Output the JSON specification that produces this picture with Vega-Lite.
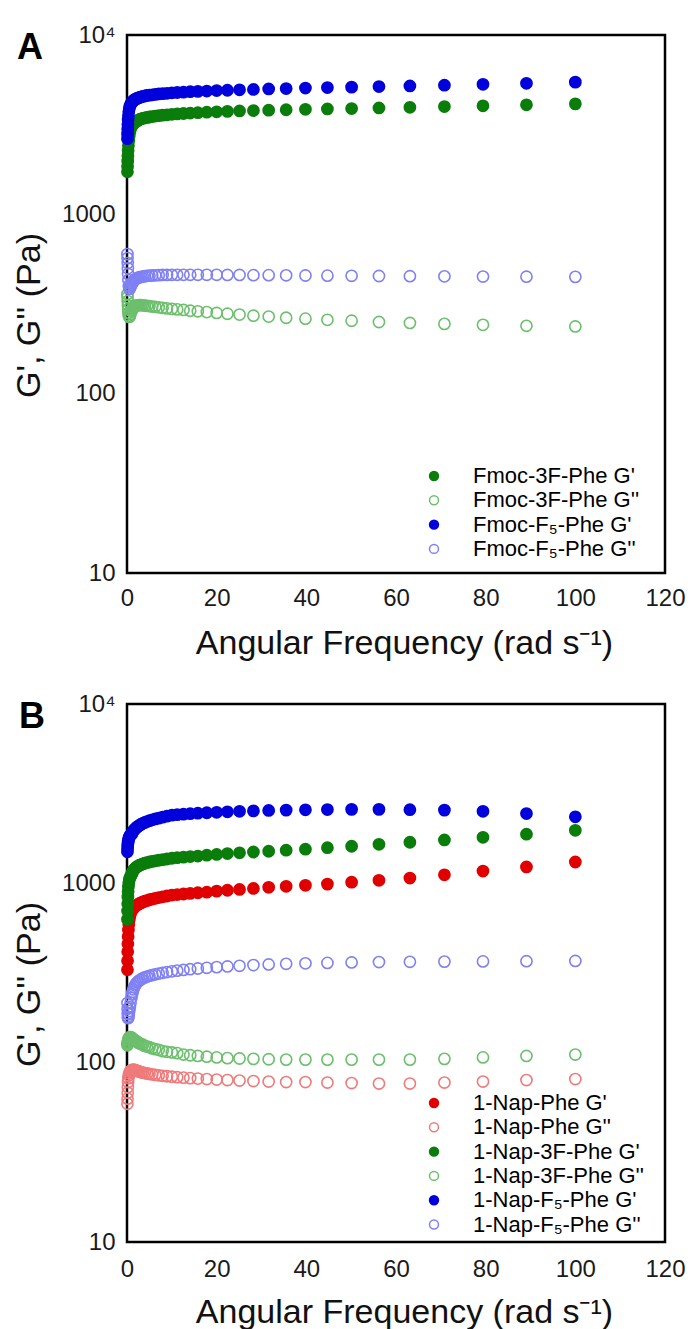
{
"$schema": "https://vega.github.io/schema/vega-lite/v6.json",
"background": "white",
"padding": {"left": 10, "top": 21, "right": 5, "bottom": 0},
"spacing": 28,
"config": {
  "font": "Liberation Sans",
  "view": {"stroke": "#000", "strokeWidth": 2.5},
  "axis": {"ticks": false, "domain": false, "grid": false, "labelFont": "Liberation Sans", "labelFontSize": 24, "labelColor": "#1a1a1a", "titleFont": "Liberation Sans", "titleFontSize": 34, "titleFontWeight": "normal", "titleColor": "#111", "labelFlush": false, "labelOverlap": false}
},
"datasets": {"pts": [
{"p":"A","s":"Fmoc-3F-Phe G'","x":0.1,"y":1730},{"p":"A","s":"Fmoc-3F-Phe G'","x":0.126,"y":1850},{"p":"A","s":"Fmoc-3F-Phe G'","x":0.158,"y":1980},{"p":"A","s":"Fmoc-3F-Phe G'","x":0.2,"y":2120},{"p":"A","s":"Fmoc-3F-Phe G'","x":0.251,"y":2270},{"p":"A","s":"Fmoc-3F-Phe G'","x":0.316,"y":2420},{"p":"A","s":"Fmoc-3F-Phe G'","x":0.398,"y":2580},{"p":"A","s":"Fmoc-3F-Phe G'","x":0.501,"y":2730},{"p":"A","s":"Fmoc-3F-Phe G'","x":0.631,"y":2880},{"p":"A","s":"Fmoc-3F-Phe G'","x":0.794,"y":3000},
{"p":"A","s":"Fmoc-3F-Phe G'","x":1,"y":3080},{"p":"A","s":"Fmoc-3F-Phe G'","x":1.12,"y":3120},{"p":"A","s":"Fmoc-3F-Phe G'","x":1.26,"y":3160},{"p":"A","s":"Fmoc-3F-Phe G'","x":1.41,"y":3200},{"p":"A","s":"Fmoc-3F-Phe G'","x":1.58,"y":3230},{"p":"A","s":"Fmoc-3F-Phe G'","x":1.78,"y":3260},{"p":"A","s":"Fmoc-3F-Phe G'","x":2,"y":3290},{"p":"A","s":"Fmoc-3F-Phe G'","x":2.24,"y":3320},{"p":"A","s":"Fmoc-3F-Phe G'","x":2.51,"y":3350},{"p":"A","s":"Fmoc-3F-Phe G'","x":2.82,"y":3380},
{"p":"A","s":"Fmoc-3F-Phe G'","x":3.16,"y":3410},{"p":"A","s":"Fmoc-3F-Phe G'","x":3.55,"y":3430},{"p":"A","s":"Fmoc-3F-Phe G'","x":3.98,"y":3450},{"p":"A","s":"Fmoc-3F-Phe G'","x":4.47,"y":3470},{"p":"A","s":"Fmoc-3F-Phe G'","x":5.01,"y":3490},{"p":"A","s":"Fmoc-3F-Phe G'","x":5.62,"y":3510},{"p":"A","s":"Fmoc-3F-Phe G'","x":6.31,"y":3530},{"p":"A","s":"Fmoc-3F-Phe G'","x":7.08,"y":3550},{"p":"A","s":"Fmoc-3F-Phe G'","x":7.94,"y":3570},{"p":"A","s":"Fmoc-3F-Phe G'","x":8.91,"y":3590},
{"p":"A","s":"Fmoc-3F-Phe G'","x":10,"y":3610},{"p":"A","s":"Fmoc-3F-Phe G'","x":11.2,"y":3630},{"p":"A","s":"Fmoc-3F-Phe G'","x":12.6,"y":3650},{"p":"A","s":"Fmoc-3F-Phe G'","x":14.1,"y":3670},{"p":"A","s":"Fmoc-3F-Phe G'","x":15.8,"y":3690},{"p":"A","s":"Fmoc-3F-Phe G'","x":17.8,"y":3710},{"p":"A","s":"Fmoc-3F-Phe G'","x":20,"y":3730},{"p":"A","s":"Fmoc-3F-Phe G'","x":22.4,"y":3750},{"p":"A","s":"Fmoc-3F-Phe G'","x":25.1,"y":3770},{"p":"A","s":"Fmoc-3F-Phe G'","x":28.2,"y":3790},
{"p":"A","s":"Fmoc-3F-Phe G'","x":31.6,"y":3810},{"p":"A","s":"Fmoc-3F-Phe G'","x":35.5,"y":3830},{"p":"A","s":"Fmoc-3F-Phe G'","x":39.8,"y":3850},{"p":"A","s":"Fmoc-3F-Phe G'","x":44.7,"y":3870},{"p":"A","s":"Fmoc-3F-Phe G'","x":50.1,"y":3890},{"p":"A","s":"Fmoc-3F-Phe G'","x":56.2,"y":3920},{"p":"A","s":"Fmoc-3F-Phe G'","x":63.1,"y":3950},{"p":"A","s":"Fmoc-3F-Phe G'","x":70.8,"y":3990},{"p":"A","s":"Fmoc-3F-Phe G'","x":79.4,"y":4030},{"p":"A","s":"Fmoc-3F-Phe G'","x":89.1,"y":4080},{"p":"A","s":"Fmoc-3F-Phe G'","x":100,"y":4130},
{"p":"A","s":"Fmoc-3F-Phe G''","x":0.1,"y":360},{"p":"A","s":"Fmoc-3F-Phe G''","x":0.126,"y":345},{"p":"A","s":"Fmoc-3F-Phe G''","x":0.158,"y":328},{"p":"A","s":"Fmoc-3F-Phe G''","x":0.2,"y":310},{"p":"A","s":"Fmoc-3F-Phe G''","x":0.251,"y":295},{"p":"A","s":"Fmoc-3F-Phe G''","x":0.316,"y":282},{"p":"A","s":"Fmoc-3F-Phe G''","x":0.398,"y":272},{"p":"A","s":"Fmoc-3F-Phe G''","x":0.501,"y":268},{"p":"A","s":"Fmoc-3F-Phe G''","x":0.631,"y":270},{"p":"A","s":"Fmoc-3F-Phe G''","x":0.794,"y":278},
{"p":"A","s":"Fmoc-3F-Phe G''","x":1,"y":288},{"p":"A","s":"Fmoc-3F-Phe G''","x":1.12,"y":294},{"p":"A","s":"Fmoc-3F-Phe G''","x":1.26,"y":299},{"p":"A","s":"Fmoc-3F-Phe G''","x":1.41,"y":303},{"p":"A","s":"Fmoc-3F-Phe G''","x":1.58,"y":306},{"p":"A","s":"Fmoc-3F-Phe G''","x":1.78,"y":308},{"p":"A","s":"Fmoc-3F-Phe G''","x":2,"y":310},{"p":"A","s":"Fmoc-3F-Phe G''","x":2.24,"y":311},{"p":"A","s":"Fmoc-3F-Phe G''","x":2.51,"y":312},{"p":"A","s":"Fmoc-3F-Phe G''","x":2.82,"y":312},
{"p":"A","s":"Fmoc-3F-Phe G''","x":3.16,"y":312},{"p":"A","s":"Fmoc-3F-Phe G''","x":3.55,"y":311},{"p":"A","s":"Fmoc-3F-Phe G''","x":3.98,"y":310},{"p":"A","s":"Fmoc-3F-Phe G''","x":4.47,"y":309},{"p":"A","s":"Fmoc-3F-Phe G''","x":5.01,"y":308},{"p":"A","s":"Fmoc-3F-Phe G''","x":5.62,"y":306},{"p":"A","s":"Fmoc-3F-Phe G''","x":6.31,"y":305},{"p":"A","s":"Fmoc-3F-Phe G''","x":7.08,"y":303},{"p":"A","s":"Fmoc-3F-Phe G''","x":7.94,"y":301},{"p":"A","s":"Fmoc-3F-Phe G''","x":8.91,"y":299},
{"p":"A","s":"Fmoc-3F-Phe G''","x":10,"y":297},{"p":"A","s":"Fmoc-3F-Phe G''","x":11.2,"y":295},{"p":"A","s":"Fmoc-3F-Phe G''","x":12.6,"y":293},{"p":"A","s":"Fmoc-3F-Phe G''","x":14.1,"y":290},{"p":"A","s":"Fmoc-3F-Phe G''","x":15.8,"y":288},{"p":"A","s":"Fmoc-3F-Phe G''","x":17.8,"y":285},{"p":"A","s":"Fmoc-3F-Phe G''","x":20,"y":282},{"p":"A","s":"Fmoc-3F-Phe G''","x":22.4,"y":279},{"p":"A","s":"Fmoc-3F-Phe G''","x":25.1,"y":276},{"p":"A","s":"Fmoc-3F-Phe G''","x":28.2,"y":272},
{"p":"A","s":"Fmoc-3F-Phe G''","x":31.6,"y":269},{"p":"A","s":"Fmoc-3F-Phe G''","x":35.5,"y":265},{"p":"A","s":"Fmoc-3F-Phe G''","x":39.8,"y":262},{"p":"A","s":"Fmoc-3F-Phe G''","x":44.7,"y":258},{"p":"A","s":"Fmoc-3F-Phe G''","x":50.1,"y":255},{"p":"A","s":"Fmoc-3F-Phe G''","x":56.2,"y":251},{"p":"A","s":"Fmoc-3F-Phe G''","x":63.1,"y":248},{"p":"A","s":"Fmoc-3F-Phe G''","x":70.8,"y":245},{"p":"A","s":"Fmoc-3F-Phe G''","x":79.4,"y":242},{"p":"A","s":"Fmoc-3F-Phe G''","x":89.1,"y":239},{"p":"A","s":"Fmoc-3F-Phe G''","x":100,"y":237},
{"p":"A","s":"Fmoc-F₅-Phe G'","x":0.1,"y":2640},{"p":"A","s":"Fmoc-F₅-Phe G'","x":0.126,"y":2800},{"p":"A","s":"Fmoc-F₅-Phe G'","x":0.158,"y":2980},{"p":"A","s":"Fmoc-F₅-Phe G'","x":0.2,"y":3170},{"p":"A","s":"Fmoc-F₅-Phe G'","x":0.251,"y":3360},{"p":"A","s":"Fmoc-F₅-Phe G'","x":0.316,"y":3550},{"p":"A","s":"Fmoc-F₅-Phe G'","x":0.398,"y":3730},{"p":"A","s":"Fmoc-F₅-Phe G'","x":0.501,"y":3880},{"p":"A","s":"Fmoc-F₅-Phe G'","x":0.631,"y":4000},{"p":"A","s":"Fmoc-F₅-Phe G'","x":0.794,"y":4100},
{"p":"A","s":"Fmoc-F₅-Phe G'","x":1,"y":4180},{"p":"A","s":"Fmoc-F₅-Phe G'","x":1.12,"y":4220},{"p":"A","s":"Fmoc-F₅-Phe G'","x":1.26,"y":4260},{"p":"A","s":"Fmoc-F₅-Phe G'","x":1.41,"y":4300},{"p":"A","s":"Fmoc-F₅-Phe G'","x":1.58,"y":4340},{"p":"A","s":"Fmoc-F₅-Phe G'","x":1.78,"y":4370},{"p":"A","s":"Fmoc-F₅-Phe G'","x":2,"y":4400},{"p":"A","s":"Fmoc-F₅-Phe G'","x":2.24,"y":4430},{"p":"A","s":"Fmoc-F₅-Phe G'","x":2.51,"y":4460},{"p":"A","s":"Fmoc-F₅-Phe G'","x":2.82,"y":4490},
{"p":"A","s":"Fmoc-F₅-Phe G'","x":3.16,"y":4520},{"p":"A","s":"Fmoc-F₅-Phe G'","x":3.55,"y":4550},{"p":"A","s":"Fmoc-F₅-Phe G'","x":3.98,"y":4570},{"p":"A","s":"Fmoc-F₅-Phe G'","x":4.47,"y":4600},{"p":"A","s":"Fmoc-F₅-Phe G'","x":5.01,"y":4620},{"p":"A","s":"Fmoc-F₅-Phe G'","x":5.62,"y":4640},{"p":"A","s":"Fmoc-F₅-Phe G'","x":6.31,"y":4660},{"p":"A","s":"Fmoc-F₅-Phe G'","x":7.08,"y":4690},{"p":"A","s":"Fmoc-F₅-Phe G'","x":7.94,"y":4710},{"p":"A","s":"Fmoc-F₅-Phe G'","x":8.91,"y":4730},
{"p":"A","s":"Fmoc-F₅-Phe G'","x":10,"y":4760},{"p":"A","s":"Fmoc-F₅-Phe G'","x":11.2,"y":4780},{"p":"A","s":"Fmoc-F₅-Phe G'","x":12.6,"y":4800},{"p":"A","s":"Fmoc-F₅-Phe G'","x":14.1,"y":4830},{"p":"A","s":"Fmoc-F₅-Phe G'","x":15.8,"y":4850},{"p":"A","s":"Fmoc-F₅-Phe G'","x":17.8,"y":4870},{"p":"A","s":"Fmoc-F₅-Phe G'","x":20,"y":4900},{"p":"A","s":"Fmoc-F₅-Phe G'","x":22.4,"y":4920},{"p":"A","s":"Fmoc-F₅-Phe G'","x":25.1,"y":4950},{"p":"A","s":"Fmoc-F₅-Phe G'","x":28.2,"y":4970},
{"p":"A","s":"Fmoc-F₅-Phe G'","x":31.6,"y":5000},{"p":"A","s":"Fmoc-F₅-Phe G'","x":35.5,"y":5030},{"p":"A","s":"Fmoc-F₅-Phe G'","x":39.8,"y":5060},{"p":"A","s":"Fmoc-F₅-Phe G'","x":44.7,"y":5090},{"p":"A","s":"Fmoc-F₅-Phe G'","x":50.1,"y":5120},{"p":"A","s":"Fmoc-F₅-Phe G'","x":56.2,"y":5160},{"p":"A","s":"Fmoc-F₅-Phe G'","x":63.1,"y":5200},{"p":"A","s":"Fmoc-F₅-Phe G'","x":70.8,"y":5250},{"p":"A","s":"Fmoc-F₅-Phe G'","x":79.4,"y":5310},{"p":"A","s":"Fmoc-F₅-Phe G'","x":89.1,"y":5380},{"p":"A","s":"Fmoc-F₅-Phe G'","x":100,"y":5460},
{"p":"A","s":"Fmoc-F₅-Phe G''","x":0.1,"y":600},{"p":"A","s":"Fmoc-F₅-Phe G''","x":0.126,"y":570},{"p":"A","s":"Fmoc-F₅-Phe G''","x":0.158,"y":535},{"p":"A","s":"Fmoc-F₅-Phe G''","x":0.2,"y":500},{"p":"A","s":"Fmoc-F₅-Phe G''","x":0.251,"y":465},{"p":"A","s":"Fmoc-F₅-Phe G''","x":0.316,"y":430},{"p":"A","s":"Fmoc-F₅-Phe G''","x":0.398,"y":400},{"p":"A","s":"Fmoc-F₅-Phe G''","x":0.501,"y":385},{"p":"A","s":"Fmoc-F₅-Phe G''","x":0.631,"y":385},{"p":"A","s":"Fmoc-F₅-Phe G''","x":0.794,"y":395},
{"p":"A","s":"Fmoc-F₅-Phe G''","x":1,"y":405},{"p":"A","s":"Fmoc-F₅-Phe G''","x":1.12,"y":412},{"p":"A","s":"Fmoc-F₅-Phe G''","x":1.26,"y":418},{"p":"A","s":"Fmoc-F₅-Phe G''","x":1.41,"y":424},{"p":"A","s":"Fmoc-F₅-Phe G''","x":1.58,"y":429},{"p":"A","s":"Fmoc-F₅-Phe G''","x":1.78,"y":433},{"p":"A","s":"Fmoc-F₅-Phe G''","x":2,"y":437},{"p":"A","s":"Fmoc-F₅-Phe G''","x":2.24,"y":440},{"p":"A","s":"Fmoc-F₅-Phe G''","x":2.51,"y":443},{"p":"A","s":"Fmoc-F₅-Phe G''","x":2.82,"y":446},
{"p":"A","s":"Fmoc-F₅-Phe G''","x":3.16,"y":448},{"p":"A","s":"Fmoc-F₅-Phe G''","x":3.55,"y":450},{"p":"A","s":"Fmoc-F₅-Phe G''","x":3.98,"y":452},{"p":"A","s":"Fmoc-F₅-Phe G''","x":4.47,"y":454},{"p":"A","s":"Fmoc-F₅-Phe G''","x":5.01,"y":455},{"p":"A","s":"Fmoc-F₅-Phe G''","x":5.62,"y":456},{"p":"A","s":"Fmoc-F₅-Phe G''","x":6.31,"y":457},{"p":"A","s":"Fmoc-F₅-Phe G''","x":7.08,"y":458},{"p":"A","s":"Fmoc-F₅-Phe G''","x":7.94,"y":459},{"p":"A","s":"Fmoc-F₅-Phe G''","x":8.91,"y":459},
{"p":"A","s":"Fmoc-F₅-Phe G''","x":10,"y":460},{"p":"A","s":"Fmoc-F₅-Phe G''","x":11.2,"y":460},{"p":"A","s":"Fmoc-F₅-Phe G''","x":12.6,"y":460},{"p":"A","s":"Fmoc-F₅-Phe G''","x":14.1,"y":460},{"p":"A","s":"Fmoc-F₅-Phe G''","x":15.8,"y":460},{"p":"A","s":"Fmoc-F₅-Phe G''","x":17.8,"y":460},{"p":"A","s":"Fmoc-F₅-Phe G''","x":20,"y":460},{"p":"A","s":"Fmoc-F₅-Phe G''","x":22.4,"y":459},{"p":"A","s":"Fmoc-F₅-Phe G''","x":25.1,"y":459},{"p":"A","s":"Fmoc-F₅-Phe G''","x":28.2,"y":458},
{"p":"A","s":"Fmoc-F₅-Phe G''","x":31.6,"y":458},{"p":"A","s":"Fmoc-F₅-Phe G''","x":35.5,"y":457},{"p":"A","s":"Fmoc-F₅-Phe G''","x":39.8,"y":456},{"p":"A","s":"Fmoc-F₅-Phe G''","x":44.7,"y":455},{"p":"A","s":"Fmoc-F₅-Phe G''","x":50.1,"y":454},{"p":"A","s":"Fmoc-F₅-Phe G''","x":56.2,"y":453},{"p":"A","s":"Fmoc-F₅-Phe G''","x":63.1,"y":452},{"p":"A","s":"Fmoc-F₅-Phe G''","x":70.8,"y":451},{"p":"A","s":"Fmoc-F₅-Phe G''","x":79.4,"y":450},{"p":"A","s":"Fmoc-F₅-Phe G''","x":89.1,"y":449},{"p":"A","s":"Fmoc-F₅-Phe G''","x":100,"y":448},
{"p":"B","s":"1-Nap-Phe G'","x":0.1,"y":330},{"p":"B","s":"1-Nap-Phe G'","x":0.126,"y":370},{"p":"B","s":"1-Nap-Phe G'","x":0.158,"y":415},{"p":"B","s":"1-Nap-Phe G'","x":0.2,"y":460},{"p":"B","s":"1-Nap-Phe G'","x":0.251,"y":505},{"p":"B","s":"1-Nap-Phe G'","x":0.316,"y":550},{"p":"B","s":"1-Nap-Phe G'","x":0.398,"y":590},{"p":"B","s":"1-Nap-Phe G'","x":0.501,"y":625},{"p":"B","s":"1-Nap-Phe G'","x":0.631,"y":655},{"p":"B","s":"1-Nap-Phe G'","x":0.794,"y":680},
{"p":"B","s":"1-Nap-Phe G'","x":1,"y":700},{"p":"B","s":"1-Nap-Phe G'","x":1.12,"y":710},{"p":"B","s":"1-Nap-Phe G'","x":1.26,"y":718},{"p":"B","s":"1-Nap-Phe G'","x":1.41,"y":726},{"p":"B","s":"1-Nap-Phe G'","x":1.58,"y":734},{"p":"B","s":"1-Nap-Phe G'","x":1.78,"y":742},{"p":"B","s":"1-Nap-Phe G'","x":2,"y":750},{"p":"B","s":"1-Nap-Phe G'","x":2.24,"y":757},{"p":"B","s":"1-Nap-Phe G'","x":2.51,"y":765},{"p":"B","s":"1-Nap-Phe G'","x":2.82,"y":772},
{"p":"B","s":"1-Nap-Phe G'","x":3.16,"y":780},{"p":"B","s":"1-Nap-Phe G'","x":3.55,"y":787},{"p":"B","s":"1-Nap-Phe G'","x":3.98,"y":795},{"p":"B","s":"1-Nap-Phe G'","x":4.47,"y":802},{"p":"B","s":"1-Nap-Phe G'","x":5.01,"y":810},{"p":"B","s":"1-Nap-Phe G'","x":5.62,"y":817},{"p":"B","s":"1-Nap-Phe G'","x":6.31,"y":825},{"p":"B","s":"1-Nap-Phe G'","x":7.08,"y":833},{"p":"B","s":"1-Nap-Phe G'","x":7.94,"y":841},{"p":"B","s":"1-Nap-Phe G'","x":8.91,"y":850},
{"p":"B","s":"1-Nap-Phe G'","x":10,"y":860},{"p":"B","s":"1-Nap-Phe G'","x":11.2,"y":866},{"p":"B","s":"1-Nap-Phe G'","x":12.6,"y":872},{"p":"B","s":"1-Nap-Phe G'","x":14.1,"y":879},{"p":"B","s":"1-Nap-Phe G'","x":15.8,"y":886},{"p":"B","s":"1-Nap-Phe G'","x":17.8,"y":893},{"p":"B","s":"1-Nap-Phe G'","x":20,"y":905},{"p":"B","s":"1-Nap-Phe G'","x":22.4,"y":915},{"p":"B","s":"1-Nap-Phe G'","x":25.1,"y":925},{"p":"B","s":"1-Nap-Phe G'","x":28.2,"y":937},
{"p":"B","s":"1-Nap-Phe G'","x":31.6,"y":950},{"p":"B","s":"1-Nap-Phe G'","x":35.5,"y":962},{"p":"B","s":"1-Nap-Phe G'","x":39.8,"y":975},{"p":"B","s":"1-Nap-Phe G'","x":44.7,"y":990},{"p":"B","s":"1-Nap-Phe G'","x":50.1,"y":1015},{"p":"B","s":"1-Nap-Phe G'","x":56.2,"y":1040},{"p":"B","s":"1-Nap-Phe G'","x":63.1,"y":1070},{"p":"B","s":"1-Nap-Phe G'","x":70.8,"y":1115},{"p":"B","s":"1-Nap-Phe G'","x":79.4,"y":1170},{"p":"B","s":"1-Nap-Phe G'","x":89.1,"y":1235},{"p":"B","s":"1-Nap-Phe G'","x":100,"y":1315},
{"p":"B","s":"1-Nap-Phe G''","x":0.1,"y":59},{"p":"B","s":"1-Nap-Phe G''","x":0.126,"y":63},{"p":"B","s":"1-Nap-Phe G''","x":0.158,"y":68},{"p":"B","s":"1-Nap-Phe G''","x":0.2,"y":73},{"p":"B","s":"1-Nap-Phe G''","x":0.251,"y":78},{"p":"B","s":"1-Nap-Phe G''","x":0.316,"y":82},{"p":"B","s":"1-Nap-Phe G''","x":0.398,"y":85},{"p":"B","s":"1-Nap-Phe G''","x":0.501,"y":87},{"p":"B","s":"1-Nap-Phe G''","x":0.631,"y":89},{"p":"B","s":"1-Nap-Phe G''","x":0.794,"y":90},
{"p":"B","s":"1-Nap-Phe G''","x":1,"y":90},{"p":"B","s":"1-Nap-Phe G''","x":1.12,"y":91},{"p":"B","s":"1-Nap-Phe G''","x":1.26,"y":91},{"p":"B","s":"1-Nap-Phe G''","x":1.41,"y":91},{"p":"B","s":"1-Nap-Phe G''","x":1.58,"y":91},{"p":"B","s":"1-Nap-Phe G''","x":1.78,"y":91},{"p":"B","s":"1-Nap-Phe G''","x":2,"y":90.5},{"p":"B","s":"1-Nap-Phe G''","x":2.24,"y":90},{"p":"B","s":"1-Nap-Phe G''","x":2.51,"y":89.5},{"p":"B","s":"1-Nap-Phe G''","x":2.82,"y":89},
{"p":"B","s":"1-Nap-Phe G''","x":3.16,"y":88.5},{"p":"B","s":"1-Nap-Phe G''","x":3.55,"y":88},{"p":"B","s":"1-Nap-Phe G''","x":3.98,"y":87.5},{"p":"B","s":"1-Nap-Phe G''","x":4.47,"y":87},{"p":"B","s":"1-Nap-Phe G''","x":5.01,"y":86.5},{"p":"B","s":"1-Nap-Phe G''","x":5.62,"y":86},{"p":"B","s":"1-Nap-Phe G''","x":6.31,"y":85.5},{"p":"B","s":"1-Nap-Phe G''","x":7.08,"y":85},{"p":"B","s":"1-Nap-Phe G''","x":7.94,"y":84.5},{"p":"B","s":"1-Nap-Phe G''","x":8.91,"y":84},
{"p":"B","s":"1-Nap-Phe G''","x":10,"y":83.5},{"p":"B","s":"1-Nap-Phe G''","x":11.2,"y":83},{"p":"B","s":"1-Nap-Phe G''","x":12.6,"y":82.5},{"p":"B","s":"1-Nap-Phe G''","x":14.1,"y":82},{"p":"B","s":"1-Nap-Phe G''","x":15.8,"y":81.5},{"p":"B","s":"1-Nap-Phe G''","x":17.8,"y":81},{"p":"B","s":"1-Nap-Phe G''","x":20,"y":80.5},{"p":"B","s":"1-Nap-Phe G''","x":22.4,"y":80},{"p":"B","s":"1-Nap-Phe G''","x":25.1,"y":79.5},{"p":"B","s":"1-Nap-Phe G''","x":28.2,"y":79},
{"p":"B","s":"1-Nap-Phe G''","x":31.6,"y":78.5},{"p":"B","s":"1-Nap-Phe G''","x":35.5,"y":78},{"p":"B","s":"1-Nap-Phe G''","x":39.8,"y":78},{"p":"B","s":"1-Nap-Phe G''","x":44.7,"y":77.5},{"p":"B","s":"1-Nap-Phe G''","x":50.1,"y":77},{"p":"B","s":"1-Nap-Phe G''","x":56.2,"y":76.5},{"p":"B","s":"1-Nap-Phe G''","x":63.1,"y":76.5},{"p":"B","s":"1-Nap-Phe G''","x":70.8,"y":77.5},{"p":"B","s":"1-Nap-Phe G''","x":79.4,"y":78.5},{"p":"B","s":"1-Nap-Phe G''","x":89.1,"y":80},{"p":"B","s":"1-Nap-Phe G''","x":100,"y":81},
{"p":"B","s":"1-Nap-3F-Phe G'","x":0.1,"y":630},{"p":"B","s":"1-Nap-3F-Phe G'","x":0.126,"y":700},{"p":"B","s":"1-Nap-3F-Phe G'","x":0.158,"y":770},{"p":"B","s":"1-Nap-3F-Phe G'","x":0.2,"y":840},{"p":"B","s":"1-Nap-3F-Phe G'","x":0.251,"y":900},{"p":"B","s":"1-Nap-3F-Phe G'","x":0.316,"y":955},{"p":"B","s":"1-Nap-3F-Phe G'","x":0.398,"y":1000},{"p":"B","s":"1-Nap-3F-Phe G'","x":0.501,"y":1040},{"p":"B","s":"1-Nap-3F-Phe G'","x":0.631,"y":1070},{"p":"B","s":"1-Nap-3F-Phe G'","x":0.794,"y":1095},
{"p":"B","s":"1-Nap-3F-Phe G'","x":1,"y":1115},{"p":"B","s":"1-Nap-3F-Phe G'","x":1.12,"y":1140},{"p":"B","s":"1-Nap-3F-Phe G'","x":1.26,"y":1160},{"p":"B","s":"1-Nap-3F-Phe G'","x":1.41,"y":1180},{"p":"B","s":"1-Nap-3F-Phe G'","x":1.58,"y":1195},{"p":"B","s":"1-Nap-3F-Phe G'","x":1.78,"y":1210},{"p":"B","s":"1-Nap-3F-Phe G'","x":2,"y":1225},{"p":"B","s":"1-Nap-3F-Phe G'","x":2.24,"y":1238},{"p":"B","s":"1-Nap-3F-Phe G'","x":2.51,"y":1250},{"p":"B","s":"1-Nap-3F-Phe G'","x":2.82,"y":1262},
{"p":"B","s":"1-Nap-3F-Phe G'","x":3.16,"y":1273},{"p":"B","s":"1-Nap-3F-Phe G'","x":3.55,"y":1284},{"p":"B","s":"1-Nap-3F-Phe G'","x":3.98,"y":1295},{"p":"B","s":"1-Nap-3F-Phe G'","x":4.47,"y":1305},{"p":"B","s":"1-Nap-3F-Phe G'","x":5.01,"y":1315},{"p":"B","s":"1-Nap-3F-Phe G'","x":5.62,"y":1325},{"p":"B","s":"1-Nap-3F-Phe G'","x":6.31,"y":1335},{"p":"B","s":"1-Nap-3F-Phe G'","x":7.08,"y":1345},{"p":"B","s":"1-Nap-3F-Phe G'","x":7.94,"y":1355},{"p":"B","s":"1-Nap-3F-Phe G'","x":8.91,"y":1367},
{"p":"B","s":"1-Nap-3F-Phe G'","x":10,"y":1380},{"p":"B","s":"1-Nap-3F-Phe G'","x":11.2,"y":1390},{"p":"B","s":"1-Nap-3F-Phe G'","x":12.6,"y":1400},{"p":"B","s":"1-Nap-3F-Phe G'","x":14.1,"y":1410},{"p":"B","s":"1-Nap-3F-Phe G'","x":15.8,"y":1420},{"p":"B","s":"1-Nap-3F-Phe G'","x":17.8,"y":1435},{"p":"B","s":"1-Nap-3F-Phe G'","x":20,"y":1450},{"p":"B","s":"1-Nap-3F-Phe G'","x":22.4,"y":1465},{"p":"B","s":"1-Nap-3F-Phe G'","x":25.1,"y":1480},{"p":"B","s":"1-Nap-3F-Phe G'","x":28.2,"y":1495},
{"p":"B","s":"1-Nap-3F-Phe G'","x":31.6,"y":1510},{"p":"B","s":"1-Nap-3F-Phe G'","x":35.5,"y":1530},{"p":"B","s":"1-Nap-3F-Phe G'","x":39.8,"y":1550},{"p":"B","s":"1-Nap-3F-Phe G'","x":44.7,"y":1580},{"p":"B","s":"1-Nap-3F-Phe G'","x":50.1,"y":1610},{"p":"B","s":"1-Nap-3F-Phe G'","x":56.2,"y":1650},{"p":"B","s":"1-Nap-3F-Phe G'","x":63.1,"y":1695},{"p":"B","s":"1-Nap-3F-Phe G'","x":70.8,"y":1745},{"p":"B","s":"1-Nap-3F-Phe G'","x":79.4,"y":1805},{"p":"B","s":"1-Nap-3F-Phe G'","x":89.1,"y":1880},{"p":"B","s":"1-Nap-3F-Phe G'","x":100,"y":1975},
{"p":"B","s":"1-Nap-3F-Phe G''","x":0.1,"y":125},{"p":"B","s":"1-Nap-3F-Phe G''","x":0.126,"y":127},{"p":"B","s":"1-Nap-3F-Phe G''","x":0.158,"y":129},{"p":"B","s":"1-Nap-3F-Phe G''","x":0.2,"y":131},{"p":"B","s":"1-Nap-3F-Phe G''","x":0.251,"y":133},{"p":"B","s":"1-Nap-3F-Phe G''","x":0.316,"y":135},{"p":"B","s":"1-Nap-3F-Phe G''","x":0.398,"y":137},{"p":"B","s":"1-Nap-3F-Phe G''","x":0.501,"y":138},{"p":"B","s":"1-Nap-3F-Phe G''","x":0.631,"y":139},{"p":"B","s":"1-Nap-3F-Phe G''","x":0.794,"y":139},
{"p":"B","s":"1-Nap-3F-Phe G''","x":1,"y":138},{"p":"B","s":"1-Nap-3F-Phe G''","x":1.12,"y":137},{"p":"B","s":"1-Nap-3F-Phe G''","x":1.26,"y":136},{"p":"B","s":"1-Nap-3F-Phe G''","x":1.41,"y":135},{"p":"B","s":"1-Nap-3F-Phe G''","x":1.58,"y":134},{"p":"B","s":"1-Nap-3F-Phe G''","x":1.78,"y":133},{"p":"B","s":"1-Nap-3F-Phe G''","x":2,"y":132},{"p":"B","s":"1-Nap-3F-Phe G''","x":2.24,"y":131},{"p":"B","s":"1-Nap-3F-Phe G''","x":2.51,"y":129},{"p":"B","s":"1-Nap-3F-Phe G''","x":2.82,"y":128},
{"p":"B","s":"1-Nap-3F-Phe G''","x":3.16,"y":127},{"p":"B","s":"1-Nap-3F-Phe G''","x":3.55,"y":126},{"p":"B","s":"1-Nap-3F-Phe G''","x":3.98,"y":124},{"p":"B","s":"1-Nap-3F-Phe G''","x":4.47,"y":123},{"p":"B","s":"1-Nap-3F-Phe G''","x":5.01,"y":122},{"p":"B","s":"1-Nap-3F-Phe G''","x":5.62,"y":120},{"p":"B","s":"1-Nap-3F-Phe G''","x":6.31,"y":119},{"p":"B","s":"1-Nap-3F-Phe G''","x":7.08,"y":118},{"p":"B","s":"1-Nap-3F-Phe G''","x":7.94,"y":116},{"p":"B","s":"1-Nap-3F-Phe G''","x":8.91,"y":115},
{"p":"B","s":"1-Nap-3F-Phe G''","x":10,"y":114},{"p":"B","s":"1-Nap-3F-Phe G''","x":11.2,"y":113},{"p":"B","s":"1-Nap-3F-Phe G''","x":12.6,"y":111},{"p":"B","s":"1-Nap-3F-Phe G''","x":14.1,"y":110},{"p":"B","s":"1-Nap-3F-Phe G''","x":15.8,"y":109},{"p":"B","s":"1-Nap-3F-Phe G''","x":17.8,"y":108},{"p":"B","s":"1-Nap-3F-Phe G''","x":20,"y":107},{"p":"B","s":"1-Nap-3F-Phe G''","x":22.4,"y":106},{"p":"B","s":"1-Nap-3F-Phe G''","x":25.1,"y":105.5},{"p":"B","s":"1-Nap-3F-Phe G''","x":28.2,"y":105},
{"p":"B","s":"1-Nap-3F-Phe G''","x":31.6,"y":104.5},{"p":"B","s":"1-Nap-3F-Phe G''","x":35.5,"y":104},{"p":"B","s":"1-Nap-3F-Phe G''","x":39.8,"y":104},{"p":"B","s":"1-Nap-3F-Phe G''","x":44.7,"y":104},{"p":"B","s":"1-Nap-3F-Phe G''","x":50.1,"y":104},{"p":"B","s":"1-Nap-3F-Phe G''","x":56.2,"y":104},{"p":"B","s":"1-Nap-3F-Phe G''","x":63.1,"y":104},{"p":"B","s":"1-Nap-3F-Phe G''","x":70.8,"y":105},{"p":"B","s":"1-Nap-3F-Phe G''","x":79.4,"y":107},{"p":"B","s":"1-Nap-3F-Phe G''","x":89.1,"y":109},{"p":"B","s":"1-Nap-3F-Phe G''","x":100,"y":111},
{"p":"B","s":"1-Nap-F₅-Phe G'","x":0.1,"y":1500},{"p":"B","s":"1-Nap-F₅-Phe G'","x":0.126,"y":1560},{"p":"B","s":"1-Nap-F₅-Phe G'","x":0.158,"y":1610},{"p":"B","s":"1-Nap-F₅-Phe G'","x":0.2,"y":1660},{"p":"B","s":"1-Nap-F₅-Phe G'","x":0.251,"y":1700},{"p":"B","s":"1-Nap-F₅-Phe G'","x":0.316,"y":1740},{"p":"B","s":"1-Nap-F₅-Phe G'","x":0.398,"y":1780},{"p":"B","s":"1-Nap-F₅-Phe G'","x":0.501,"y":1810},{"p":"B","s":"1-Nap-F₅-Phe G'","x":0.631,"y":1840},{"p":"B","s":"1-Nap-F₅-Phe G'","x":0.794,"y":1860},
{"p":"B","s":"1-Nap-F₅-Phe G'","x":1,"y":1870},{"p":"B","s":"1-Nap-F₅-Phe G'","x":1.12,"y":1900},{"p":"B","s":"1-Nap-F₅-Phe G'","x":1.26,"y":1930},{"p":"B","s":"1-Nap-F₅-Phe G'","x":1.41,"y":1960},{"p":"B","s":"1-Nap-F₅-Phe G'","x":1.58,"y":1985},{"p":"B","s":"1-Nap-F₅-Phe G'","x":1.78,"y":2010},{"p":"B","s":"1-Nap-F₅-Phe G'","x":2,"y":2035},{"p":"B","s":"1-Nap-F₅-Phe G'","x":2.24,"y":2060},{"p":"B","s":"1-Nap-F₅-Phe G'","x":2.51,"y":2085},{"p":"B","s":"1-Nap-F₅-Phe G'","x":2.82,"y":2110},
{"p":"B","s":"1-Nap-F₅-Phe G'","x":3.16,"y":2135},{"p":"B","s":"1-Nap-F₅-Phe G'","x":3.55,"y":2160},{"p":"B","s":"1-Nap-F₅-Phe G'","x":3.98,"y":2185},{"p":"B","s":"1-Nap-F₅-Phe G'","x":4.47,"y":2210},{"p":"B","s":"1-Nap-F₅-Phe G'","x":5.01,"y":2235},{"p":"B","s":"1-Nap-F₅-Phe G'","x":5.62,"y":2260},{"p":"B","s":"1-Nap-F₅-Phe G'","x":6.31,"y":2285},{"p":"B","s":"1-Nap-F₅-Phe G'","x":7.08,"y":2310},{"p":"B","s":"1-Nap-F₅-Phe G'","x":7.94,"y":2340},{"p":"B","s":"1-Nap-F₅-Phe G'","x":8.91,"y":2370},
{"p":"B","s":"1-Nap-F₅-Phe G'","x":10,"y":2400},{"p":"B","s":"1-Nap-F₅-Phe G'","x":11.2,"y":2415},{"p":"B","s":"1-Nap-F₅-Phe G'","x":12.6,"y":2430},{"p":"B","s":"1-Nap-F₅-Phe G'","x":14.1,"y":2445},{"p":"B","s":"1-Nap-F₅-Phe G'","x":15.8,"y":2460},{"p":"B","s":"1-Nap-F₅-Phe G'","x":17.8,"y":2475},{"p":"B","s":"1-Nap-F₅-Phe G'","x":20,"y":2490},{"p":"B","s":"1-Nap-F₅-Phe G'","x":22.4,"y":2505},{"p":"B","s":"1-Nap-F₅-Phe G'","x":25.1,"y":2520},{"p":"B","s":"1-Nap-F₅-Phe G'","x":28.2,"y":2535},
{"p":"B","s":"1-Nap-F₅-Phe G'","x":31.6,"y":2550},{"p":"B","s":"1-Nap-F₅-Phe G'","x":35.5,"y":2560},{"p":"B","s":"1-Nap-F₅-Phe G'","x":39.8,"y":2570},{"p":"B","s":"1-Nap-F₅-Phe G'","x":44.7,"y":2580},{"p":"B","s":"1-Nap-F₅-Phe G'","x":50.1,"y":2585},{"p":"B","s":"1-Nap-F₅-Phe G'","x":56.2,"y":2585},{"p":"B","s":"1-Nap-F₅-Phe G'","x":63.1,"y":2575},{"p":"B","s":"1-Nap-F₅-Phe G'","x":70.8,"y":2560},{"p":"B","s":"1-Nap-F₅-Phe G'","x":79.4,"y":2520},{"p":"B","s":"1-Nap-F₅-Phe G'","x":89.1,"y":2450},{"p":"B","s":"1-Nap-F₅-Phe G'","x":100,"y":2350},
{"p":"B","s":"1-Nap-F₅-Phe G''","x":0.1,"y":215},{"p":"B","s":"1-Nap-F₅-Phe G''","x":0.126,"y":200},{"p":"B","s":"1-Nap-F₅-Phe G''","x":0.158,"y":188},{"p":"B","s":"1-Nap-F₅-Phe G''","x":0.2,"y":180},{"p":"B","s":"1-Nap-F₅-Phe G''","x":0.251,"y":177},{"p":"B","s":"1-Nap-F₅-Phe G''","x":0.316,"y":180},{"p":"B","s":"1-Nap-F₅-Phe G''","x":0.398,"y":186},{"p":"B","s":"1-Nap-F₅-Phe G''","x":0.501,"y":194},{"p":"B","s":"1-Nap-F₅-Phe G''","x":0.631,"y":204},{"p":"B","s":"1-Nap-F₅-Phe G''","x":0.794,"y":216},
{"p":"B","s":"1-Nap-F₅-Phe G''","x":1,"y":230},{"p":"B","s":"1-Nap-F₅-Phe G''","x":1.12,"y":240},{"p":"B","s":"1-Nap-F₅-Phe G''","x":1.26,"y":248},{"p":"B","s":"1-Nap-F₅-Phe G''","x":1.41,"y":256},{"p":"B","s":"1-Nap-F₅-Phe G''","x":1.58,"y":263},{"p":"B","s":"1-Nap-F₅-Phe G''","x":1.78,"y":269},{"p":"B","s":"1-Nap-F₅-Phe G''","x":2,"y":275},{"p":"B","s":"1-Nap-F₅-Phe G''","x":2.24,"y":280},{"p":"B","s":"1-Nap-F₅-Phe G''","x":2.51,"y":284},{"p":"B","s":"1-Nap-F₅-Phe G''","x":2.82,"y":288},
{"p":"B","s":"1-Nap-F₅-Phe G''","x":3.16,"y":292},{"p":"B","s":"1-Nap-F₅-Phe G''","x":3.55,"y":296},{"p":"B","s":"1-Nap-F₅-Phe G''","x":3.98,"y":299},{"p":"B","s":"1-Nap-F₅-Phe G''","x":4.47,"y":302},{"p":"B","s":"1-Nap-F₅-Phe G''","x":5.01,"y":305},{"p":"B","s":"1-Nap-F₅-Phe G''","x":5.62,"y":308},{"p":"B","s":"1-Nap-F₅-Phe G''","x":6.31,"y":311},{"p":"B","s":"1-Nap-F₅-Phe G''","x":7.08,"y":314},{"p":"B","s":"1-Nap-F₅-Phe G''","x":7.94,"y":317},{"p":"B","s":"1-Nap-F₅-Phe G''","x":8.91,"y":320},
{"p":"B","s":"1-Nap-F₅-Phe G''","x":10,"y":323},{"p":"B","s":"1-Nap-F₅-Phe G''","x":11.2,"y":326},{"p":"B","s":"1-Nap-F₅-Phe G''","x":12.6,"y":329},{"p":"B","s":"1-Nap-F₅-Phe G''","x":14.1,"y":332},{"p":"B","s":"1-Nap-F₅-Phe G''","x":15.8,"y":335},{"p":"B","s":"1-Nap-F₅-Phe G''","x":17.8,"y":338},{"p":"B","s":"1-Nap-F₅-Phe G''","x":20,"y":341},{"p":"B","s":"1-Nap-F₅-Phe G''","x":22.4,"y":344},{"p":"B","s":"1-Nap-F₅-Phe G''","x":25.1,"y":347},{"p":"B","s":"1-Nap-F₅-Phe G''","x":28.2,"y":350},
{"p":"B","s":"1-Nap-F₅-Phe G''","x":31.6,"y":353},{"p":"B","s":"1-Nap-F₅-Phe G''","x":35.5,"y":356},{"p":"B","s":"1-Nap-F₅-Phe G''","x":39.8,"y":358},{"p":"B","s":"1-Nap-F₅-Phe G''","x":44.7,"y":360},{"p":"B","s":"1-Nap-F₅-Phe G''","x":50.1,"y":362},{"p":"B","s":"1-Nap-F₅-Phe G''","x":56.2,"y":364},{"p":"B","s":"1-Nap-F₅-Phe G''","x":63.1,"y":365},{"p":"B","s":"1-Nap-F₅-Phe G''","x":70.8,"y":366},{"p":"B","s":"1-Nap-F₅-Phe G''","x":79.4,"y":367},{"p":"B","s":"1-Nap-F₅-Phe G''","x":89.1,"y":368},{"p":"B","s":"1-Nap-F₅-Phe G''","x":100,"y":369}
]},
"vconcat": [
{
  "width": 538, "height": 538,
  "title": {"text": "A", "anchor": "start", "frame": "group", "font": "Liberation Sans", "fontSize": 36, "fontWeight": "bold", "color": "#000", "dx": -110, "dy": 72, "offset": 0, "baseline": "alphabetic"},
  "data": {"name": "pts"},
  "transform": [{"filter": "datum.p == 'A'"}],
  "mark": {"type": "point", "shape": "circle", "size": 125, "strokeWidth": 1.6, "opacity": 1},
  "encoding": {
    "x": {"field": "x", "type": "quantitative", "scale": {"domain": [0, 120], "nice": false, "zero": false}, "axis": {"values": [0, 20, 40, 60, 80, 100, 120], "title": "Angular Frequency (rad s⁻¹)", "labelPadding": 13, "titleX": 277, "titleY": 80, "titleBaseline": "alphabetic"}},
    "y": {"field": "y", "type": "quantitative", "scale": {"type": "log", "domain": [10, 10000], "nice": false}, "axis": {"values": [10, 100, 1000, 10000], "labelExpr": "datum.value >= 10000 ? '10⁴' : format(datum.value, 'd')", "title": "G', G'' (Pa)", "labelPadding": 12, "titleX": -88, "titleY": 280, "titleBaseline": "alphabetic"}},
    "stroke": {"field": "s", "type": "nominal", "scale": {"domain": ["Fmoc-3F-Phe G'", "Fmoc-3F-Phe G''", "Fmoc-F₅-Phe G'", "Fmoc-F₅-Phe G''"], "range": ["#0a7d0a", "#6cbf6c", "#0000dd", "#8080f5"]},
      "legend": {"orient": "none", "legendX": 296, "legendY": 430, "title": null, "padding": 0, "labelFont": "Liberation Sans", "labelFontSize": 22, "labelOffset": 28, "rowPadding": 2.3, "symbolSize": 80, "symbolStrokeWidth": 1.5, "labelLimit": 400, "encode": {"labels": {"update": {"fill": {"signal": "indexof(datum.value, '3F') >= 0 ? '#0a7d0a' : (indexof(datum.value, 'F₅') >= 0 ? '#0000dd' : '#e00000')"}}}}}},
    "fill": {"field": "s", "type": "nominal", "scale": {"domain": ["Fmoc-3F-Phe G'", "Fmoc-3F-Phe G''", "Fmoc-F₅-Phe G'", "Fmoc-F₅-Phe G''"], "range": ["#0a7d0a", "transparent", "#0000dd", "transparent"]},
      "legend": {"orient": "none", "legendX": 296, "legendY": 430, "title": null, "padding": 0, "labelFont": "Liberation Sans", "labelFontSize": 22, "labelOffset": 28, "rowPadding": 2.3, "symbolSize": 80, "symbolStrokeWidth": 1.5, "labelLimit": 400, "encode": {"labels": {"update": {"fill": {"signal": "indexof(datum.value, '3F') >= 0 ? '#0a7d0a' : (indexof(datum.value, 'F₅') >= 0 ? '#0000dd' : '#e00000')"}}}}}}
  }
},
{
  "width": 538, "height": 538,
  "title": {"text": "B", "anchor": "start", "frame": "group", "font": "Liberation Sans", "fontSize": 36, "fontWeight": "bold", "color": "#000", "dx": -108, "dy": 72, "offset": 0, "baseline": "alphabetic"},
  "data": {"name": "pts"},
  "transform": [{"filter": "datum.p == 'B'"}],
  "mark": {"type": "point", "shape": "circle", "size": 125, "strokeWidth": 1.6, "opacity": 1},
  "encoding": {
    "x": {"field": "x", "type": "quantitative", "scale": {"domain": [0, 120], "nice": false, "zero": false}, "axis": {"values": [0, 20, 40, 60, 80, 100, 120], "title": "Angular Frequency (rad s⁻¹)", "labelPadding": 15, "titleX": 277, "titleY": 80, "titleBaseline": "alphabetic"}},
    "y": {"field": "y", "type": "quantitative", "scale": {"type": "log", "domain": [10, 10000], "nice": false}, "axis": {"values": [10, 100, 1000, 10000], "labelExpr": "datum.value >= 10000 ? '10⁴' : format(datum.value, 'd')", "title": "G', G'' (Pa)", "labelPadding": 12, "titleX": -88, "titleY": 280, "titleBaseline": "alphabetic"}},
    "stroke": {"field": "s", "type": "nominal", "scale": {"domain": ["1-Nap-Phe G'", "1-Nap-Phe G''", "1-Nap-3F-Phe G'", "1-Nap-3F-Phe G''", "1-Nap-F₅-Phe G'", "1-Nap-F₅-Phe G''"], "range": ["#e00000", "#f07a7a", "#0a7d0a", "#6cbf6c", "#0000dd", "#8080f5"]},
      "legend": {"orient": "none", "legendX": 296, "legendY": 388, "title": null, "padding": 0, "labelFont": "Liberation Sans", "labelFontSize": 22, "labelOffset": 28, "rowPadding": 2.3, "symbolSize": 80, "symbolStrokeWidth": 1.5, "labelLimit": 400, "encode": {"labels": {"update": {"fill": {"signal": "indexof(datum.value, '3F') >= 0 ? '#0a7d0a' : (indexof(datum.value, 'F₅') >= 0 ? '#0000dd' : '#e00000')"}}}}}},
    "fill": {"field": "s", "type": "nominal", "scale": {"domain": ["1-Nap-Phe G'", "1-Nap-Phe G''", "1-Nap-3F-Phe G'", "1-Nap-3F-Phe G''", "1-Nap-F₅-Phe G'", "1-Nap-F₅-Phe G''"], "range": ["#e00000", "transparent", "#0a7d0a", "transparent", "#0000dd", "transparent"]},
      "legend": {"orient": "none", "legendX": 296, "legendY": 388, "title": null, "padding": 0, "labelFont": "Liberation Sans", "labelFontSize": 22, "labelOffset": 28, "rowPadding": 2.3, "symbolSize": 80, "symbolStrokeWidth": 1.5, "labelLimit": 400, "encode": {"labels": {"update": {"fill": {"signal": "indexof(datum.value, '3F') >= 0 ? '#0a7d0a' : (indexof(datum.value, 'F₅') >= 0 ? '#0000dd' : '#e00000')"}}}}}}
  }
}
],
"resolve": {"scale": {"stroke": "independent", "fill": "independent"}, "legend": {"stroke": "independent", "fill": "independent"}}
}
